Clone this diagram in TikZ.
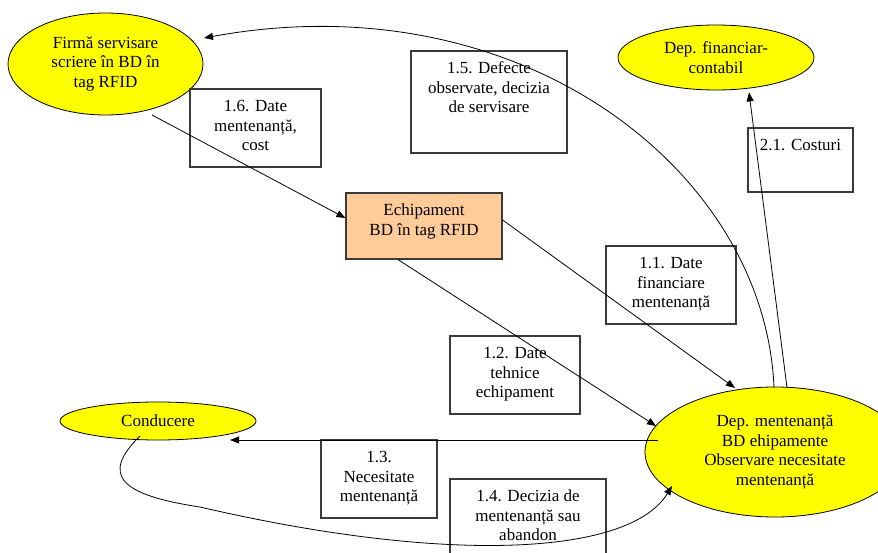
\documentclass[tikz,border=0pt]{standalone}
\usepackage{fontspec}
\setmainfont{Liberation Serif}
\usetikzlibrary{shapes.geometric,arrows.meta,calc}
\definecolor{ylw}{HTML}{FFFF00}
\definecolor{peach}{HTML}{FFCC99}
\definecolor{boxline}{HTML}{3A3A3A}
\tikzset{
  txt/.style={font=\fontsize{17}{19.5}\selectfont, align=center},
  ell/.style={ellipse, draw=black, line width=0.8pt, fill=ylw, inner sep=0pt, txt},
  lbox/.style={rectangle, draw=boxline, line width=1.2pt, inner sep=0pt},
  lbl/.style={txt, inner sep=0pt, anchor=north},
  conn/.style={draw=black, line width=0.8pt},
  arr/.style={conn, -{Triangle[length=9pt,width=7pt]}},
}
\begin{document}
\begin{tikzpicture}[x=1pt,y=-1pt]
\useasboundingbox (0,0) rectangle (878,553);
\clip (0,0) rectangle (878,553);
% ellipses
\node[ell, minimum width=195, minimum height=102] (firma) at (105.5,64) {Firmă servisare\\scriere în BD în\\tag RFID};
\node[ell, minimum width=196, minimum height=65] (fin) at (716,57.5) {Dep. financiar-\\contabil};
\node[ell, minimum width=196, minimum height=38] (cond) at (158,421) {Conducere};
\node[ell, minimum width=260, minimum height=130] (dep) at (775,452) {Dep. mentenanță\\BD ehipamente\\Observare necesitate\\mentenanță};
% boxes
\node[lbox, minimum width=131, minimum height=78] (b16) at (255.5,128) {};
\node[lbox, minimum width=156, minimum height=102] (b15) at (489,102) {};
\node[lbox, minimum width=105, minimum height=64] (b21) at (800.5,160) {};
\node[lbox, fill=peach, minimum width=156, minimum height=66] (eq) at (424,226) {};
\node[lbox, minimum width=130, minimum height=78] (b11) at (671,285) {};
\node[lbox, minimum width=130, minimum height=78] (b12) at (515,375) {};
\node[lbox, minimum width=116, minimum height=78] (b13) at (379,479) {};
\node[lbox, minimum width=156, minimum height=96] (b14) at (528,527) {};
% box texts
\node[lbl] (t16) at ($(b16.north)+(0,9.5)$) {\strut 1.6. Date\\mentenanță,\\cost};
\node[lbl] (t15) at ($(b15.north)+(0,9.5)$) {\strut 1.5. Defecte\\observate, decizia\\de servisare};
\node[lbl] (t21) at ($(b21.north)+(0,9.5)$) {\strut 2.1. Costuri};
\node[lbl] (teq) at ($(eq.north)+(0,9.5)$) {\strut Echipament\\BD în tag RFID};
\node[lbl] (t11) at ($(b11.north)+(0,9.5)$) {\strut 1.1. Date\\financiare\\mentenanță};
\node[lbl] (t12) at ($(b12.north)+(0,9.5)$) {\strut 1.2. Date\\tehnice\\echipament};
\node[lbl] (t13) at ($(b13.north)+(0,9.5)$) {\strut 1.3.\\Necesitate\\mentenanță};
\node[lbl] (t14) at ($(b14.north)+(0,9.5)$) {\strut 1.4. Decizia de\\mentenanță sau\\abandon};
% connectors
\draw[arr] ($(firma.center)+(46.5,51)$) -- ($(eq.west)+(0,-8)$);
\draw[arr] ($(eq.east)+(0,-6)$) -- ($(dep.center)+(-40,-64)$);
\draw[arr] ($(eq.south)+(-26,0)$) -- ($(dep.center)+(-119,-26)$);
\draw[arr] ($(dep.center)+(-117,-12)$) -- ($(cond.center)+(72,19)$);
\draw[arr] ($(cond.center)+(-18,15)$) .. controls (100,475) and (120,495) .. (200,507)
  .. controls (450,565) and (630,555) .. ($(dep.center)+(-103,34)$);
\draw[arr] ($(dep.north)+(-1,1)$) .. controls (765,170) and (520,-20) .. ($(firma.center)+(98.5,-26)$);
\draw[arr] ($(dep.north)+(12,1)$) -- ($(fin.south)+(33,2)$);
\end{tikzpicture}
\end{document}
